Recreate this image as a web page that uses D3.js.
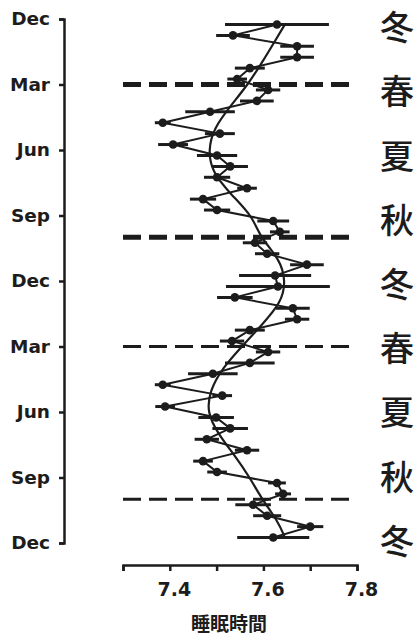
<!DOCTYPE html>
<html><head><meta charset="utf-8">
<script src="https://cdn.jsdelivr.net/npm/d3@7"></script>
<style>
html,body{margin:0;padding:0;background:#fff;}
svg{display:block;}
</style></head>
<body><div id="chart"></div>
<script>
// Month ticks (months since first December)
const monthTicks = [0, 3, 6, 9, 12, 15, 18, 21, 24];
const monthLabels = ["Dec", "Mar", "Jun", "Sep", "Dec", "Mar", "Jun", "Sep", "Dec"];
const seasonLabels = ["冬", "春", "夏", "秋", "冬", "春", "夏", "秋", "冬"];
// Season boundaries (dashed lines), months since first December
const seasonBreaks = [3, 10, 15, 22];
// Sleep-time axis
const sleepTicks = [7.3, 7.4, 7.5, 7.6, 7.7, 7.8];
const sleepTickLabels = ["", "7.4", "", "7.6", "", "7.8"];
// Semi-monthly mean sleep time (hours) and error half-widths
const sleepMeans = [7.629, 7.535, 7.672, 7.672, 7.571, 7.544, 7.610, 7.586, 7.486, 7.385,
  7.507, 7.407, 7.501, 7.529, 7.501, 7.565, 7.471, 7.501, 7.621, 7.635,
  7.582, 7.608, 7.693, 7.625, 7.631, 7.539, 7.663, 7.672, 7.571, 7.533,
  7.610, 7.571, 7.492, 7.385, 7.512, 7.390, 7.499, 7.529, 7.479, 7.565,
  7.471, 7.501, 7.629, 7.642, 7.578, 7.608, 7.700, 7.621];
const sleepErrors = [0.111, 0.036, 0.036, 0.036, 0.032, 0.021, 0.026, 0.036, 0.053, 0.017,
  0.032, 0.032, 0.043, 0.038, 0.028, 0.021, 0.028, 0.028, 0.034, 0.021,
  0.026, 0.026, 0.036, 0.077, 0.111, 0.038, 0.036, 0.026, 0.032, 0.026,
  0.026, 0.053, 0.053, 0.017, 0.021, 0.021, 0.038, 0.038, 0.026, 0.026,
  0.021, 0.021, 0.019, 0.017, 0.038, 0.030, 0.028, 0.077];
// Smoothed trend (monthly)
const trendMonths = [0.25, 1, 2, 3, 4, 5, 6, 7, 8, 9, 10, 11, 12, 13, 14, 15, 16, 17, 18, 19, 20, 21, 22, 23, 23.75];
const trendValues = [7.646, 7.625, 7.597, 7.567, 7.529, 7.494, 7.482, 7.490, 7.529, 7.576,
  7.593, 7.635, 7.648, 7.638, 7.597, 7.554, 7.512, 7.486, 7.479, 7.503,
  7.539, 7.571, 7.597, 7.631, 7.646];

const W = 419, H = 635;
const ink = "#1c1c1c";
const svg = d3.select("#chart").append("svg").attr("width", W).attr("height", H);

const y = d3.scaleLinear().domain([0, 24]).range([19, 543]);
const x = d3.scaleLinear().domain([7.3, 7.8]).range([123, 357]);

const pts = sleepMeans.map((v, i) => ({t: 0.25 + i * 0.5, v, e: sleepErrors[i]}));

// dashed season lines
svg.append("g").selectAll("line").data(seasonBreaks).join("line")
  .attr("x1", x(7.3)).attr("x2", x(7.8))
  .attr("y1", d => y(d)).attr("y2", d => y(d))
  .attr("stroke", ink)
  .attr("stroke-width", (d, i) => i < 2 ? 5 : 3)
  .attr("stroke-dasharray", "18,8");

// error bars
svg.append("g").selectAll("line").data(pts).join("line")
  .attr("x1", d => x(d.v - d.e)).attr("x2", d => x(d.v + d.e))
  .attr("y1", d => y(d.t)).attr("y2", d => y(d.t))
  .attr("stroke", ink).attr("stroke-width", 3);

// zigzag data line
svg.append("path").datum(pts)
  .attr("d", d3.line().x(d => x(d.v)).y(d => y(d.t)))
  .attr("fill", "none").attr("stroke", ink).attr("stroke-width", 2);

// smooth trend line
const trend = trendMonths.map((t, i) => ({t, v: trendValues[i]}));
svg.append("path").datum(trend)
  .attr("d", d3.line().x(d => x(d.v)).y(d => y(d.t)).curve(d3.curveBasis))
  .attr("fill", "none").attr("stroke", ink).attr("stroke-width", 2.2);

// markers
svg.append("g").selectAll("circle").data(pts).join("circle")
  .attr("cx", d => x(d.v)).attr("cy", d => y(d.t)).attr("r", 4.3)
  .attr("fill", ink);

// Y axis
const yAxis = d3.axisLeft(y).tickValues(monthTicks)
  .tickFormat((d, i) => monthLabels[i]).tickSize(5).tickPadding(9);
const gy = svg.append("g").attr("transform", "translate(64,0)").call(yAxis);
gy.selectAll("path,line").attr("stroke", ink).attr("stroke-width", 2.5);
gy.selectAll("text").attr("fill", ink)
  .style("font-family", "'DejaVu Sans', sans-serif").style("font-weight", "bold")
  .style("font-size", "18.5px");

// X axis
const xAxis = d3.axisBottom(x).tickValues(sleepTicks)
  .tickFormat((d, i) => sleepTickLabels[i]).tickSize(6).tickPadding(12);
const gx = svg.append("g").attr("transform", "translate(0,565)").call(xAxis);
gx.selectAll("path,line").attr("stroke", ink).attr("stroke-width", 2.5);
gx.selectAll("text").attr("fill", ink).attr("dx", 4)
  .style("font-family", "'DejaVu Sans', sans-serif").style("font-weight", "bold")
  .style("font-size", "19px");

// X title
svg.append("text").attr("x", 229).attr("y", 631).attr("text-anchor", "middle")
  .attr("fill", ink)
  .style("font-family", "'Noto Sans CJK JP', sans-serif").style("font-weight", "bold")
  .style("font-size", "19px").text("睡眠時間");

// Season labels
const seasonStep = (y(24) - y(0)) / 8 * 0.98;
svg.append("g").selectAll("text").data(seasonLabels).join("text")
  .attr("x", 397).attr("y", (d, i) => 28 + i * seasonStep)
  .attr("dy", "0.36em")
  .attr("text-anchor", "middle").attr("fill", ink)
  .style("font-family", "'Noto Sans CJK JP', sans-serif").style("font-weight", "500")
  .style("font-size", "34px").text(d => d);
</script></body></html>
